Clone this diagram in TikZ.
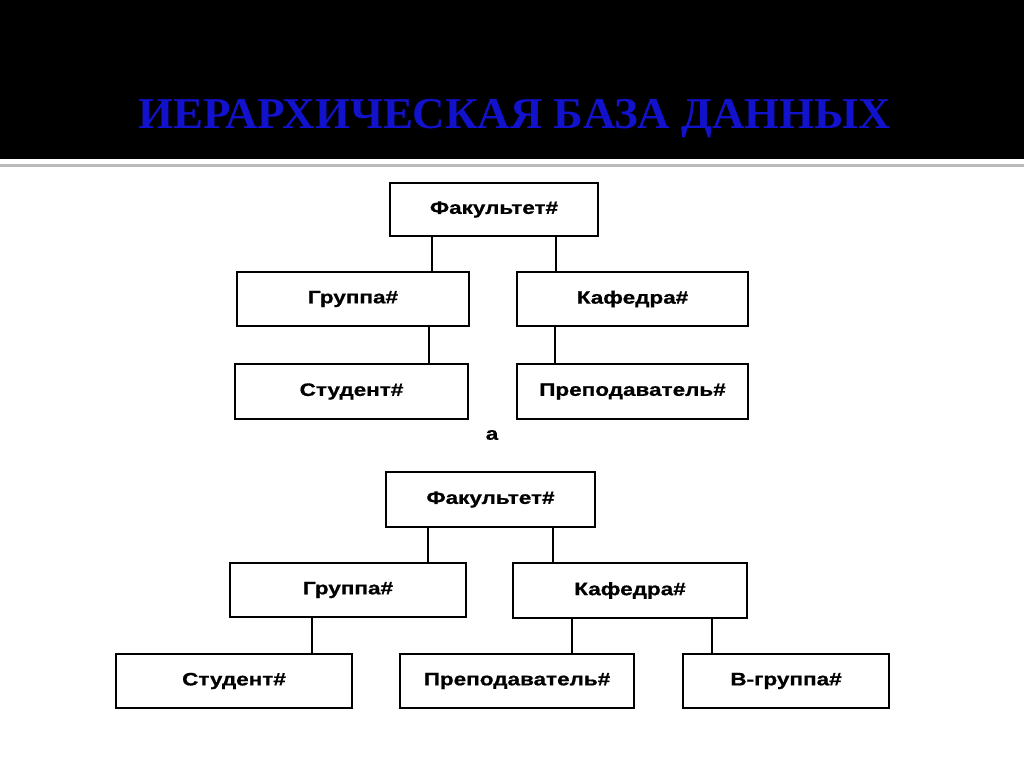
\documentclass[tikz,border=0pt]{standalone}
\usepackage{fontspec}
\setmainfont{Liberation Serif}
\newfontfamily\boxfont[FakeStretch=1.25,FakeBold=0.8]{Liberation Sans}
\newfontfamily\titlefont[FakeStretch=1.02]{Liberation Serif}
\definecolor{titleblue}{RGB}{18,18,205}
\begin{document}
\begin{tikzpicture}[x=1pt,y=-1pt,
  box/.style={draw=black,line width=2.5pt,fill=white,inner sep=0pt,
    font=\boxfont\bfseries\fontsize{18}{22}\selectfont},
  link/.style={draw=black,line width=2.3pt}]
\useasboundingbox (0,0) rectangle (1024,767);
\fill[white] (0,0) rectangle (1024,767);
% title band
\fill[black] (0,0) rectangle (1024,159);
\draw[gray!55,line width=3pt] (0,165.5) -- (1024,165.5);
\node[anchor=base,text=titleblue,font=\titlefont\bfseries\fontsize{44}{50}\selectfont] (title) at (515,129) {ИЕРАРХИЧЕСКАЯ БАЗА ДАННЫХ};
% ---- diagram a ----
\node[box,minimum width=208pt,minimum height=53pt] (f1) at (494,209.5) {Факультет\#};
\node[box,minimum width=232pt,minimum height=54pt] (g1) at (353,299) {Группа\#};
\node[box,minimum width=231pt,minimum height=54pt] (k1) at (632.5,299) {Кафедра\#};
\node[box,minimum width=233pt,minimum height=55pt] (s1) at (351.5,391.5) {Студент\#};
\node[box,minimum width=231pt,minimum height=55pt] (p1) at (632.5,391.5) {Преподаватель\#};
\coordinate (xa1) at (432,0);
\coordinate (xa2) at (556,0);
\coordinate (xa3) at (429,0);
\coordinate (xa4) at (555,0);
\draw[link] (f1.south -| xa1) -- (g1.north -| xa1);
\draw[link] (f1.south -| xa2) -- (k1.north -| xa2);
\draw[link] (g1.south -| xa3) -- (s1.north -| xa3);
\draw[link] (k1.south -| xa4) -- (p1.north -| xa4);
\node[font=\boxfont\bfseries\fontsize{18}{22}\selectfont] (labela) at (492,435) {а};
% ---- diagram b ----
\node[box,minimum width=209pt,minimum height=55pt] (f2) at (490.5,499.5) {Факультет\#};
\node[box,minimum width=236pt,minimum height=54pt] (g2) at (348,590) {Группа\#};
\node[box,minimum width=234pt,minimum height=55pt] (k2) at (630,590.5) {Кафедра\#};
\node[box,minimum width=236pt,minimum height=54pt] (s2) at (234,681) {Студент\#};
\node[box,minimum width=234pt,minimum height=54pt] (p2) at (517,681) {Преподаватель\#};
\node[box,minimum width=206pt,minimum height=54pt] (b2) at (786,681) {В-группа\#};
\coordinate (xb1) at (428,0);
\coordinate (xb2) at (553,0);
\coordinate (xb3) at (312,0);
\coordinate (xb4) at (572,0);
\coordinate (xb5) at (712,0);
\draw[link] (f2.south -| xb1) -- (g2.north -| xb1);
\draw[link] (f2.south -| xb2) -- (k2.north -| xb2);
\draw[link] (g2.south -| xb3) -- (s2.north -| xb3);
\draw[link] (k2.south -| xb4) -- (p2.north -| xb4);
\draw[link] (k2.south -| xb5) -- (b2.north -| xb5);
\end{tikzpicture}
\end{document}
